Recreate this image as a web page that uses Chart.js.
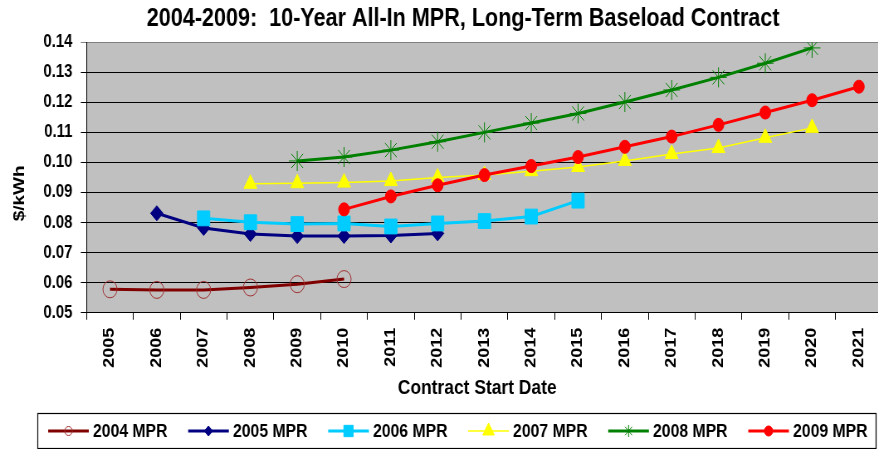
<!DOCTYPE html>
<html>
<head>
<meta charset="utf-8">
<script src="https://cdn.jsdelivr.net/npm/chart.js@4.4.0/dist/chart.umd.min.js"></script>
<style>
  html, body { margin: 0; padding: 0; background: #fff; overflow: hidden; }
  /* the original picture is squeezed sideways, so the whole chart is drawn wide and squeezed the same way */
  #wrap { position: relative; width: 1116px; height: 449px; transform: scaleX(0.83); transform-origin: 0 0; }
</style>
</head>
<body>
<div id="wrap"><canvas id="myChart"></canvas></div>
<script>
// contract start years (x categories)
const years = ['2005','2006','2007','2008','2009','2010','2011','2012','2013','2014','2015','2016','2017','2018','2019','2020','2021'];

// $/kWh, null where a series has no point
const mpr2004 = [0.0578, 0.0576, 0.0576, 0.0584, 0.0595, 0.0612, null, null, null, null, null, null, null, null, null, null, null];
const mpr2005 = [null, 0.0831, 0.0782, 0.0762, 0.0755, 0.0755, 0.0757, 0.0764, null, null, null, null, null, null, null, null, null];
const mpr2006 = [null, null, 0.0814, 0.0801, 0.0795, 0.0797, 0.0787, 0.0797, 0.0805, 0.0820, 0.0873, null, null, null, null, null, null];
const mpr2007 = [null, null, null, 0.0929, 0.0931, 0.0933, 0.0938, 0.0950, 0.0958, 0.0971, 0.0985, 0.1005, 0.1028, 0.1048, 0.1082, 0.1115, null];
const mpr2008 = [null, null, null, null, 0.1005, 0.1018, 0.1041, 0.1069, 0.1100, 0.1131, 0.1163, 0.1201, 0.1241, 0.1283, 0.1330, 0.1381, null];
const mpr2009 = [null, null, null, null, null, 0.0844, 0.0887, 0.0924, 0.0958, 0.0988, 0.1018, 0.1052, 0.1086, 0.1125, 0.1166, 0.1207, 0.1252];

const seriesNames = ['2004 MPR', '2005 MPR', '2006 MPR', '2007 MPR', '2008 MPR', '2009 MPR'];
const seriesData = [mpr2004, mpr2005, mpr2006, mpr2007, mpr2008, mpr2009];

const yMin = 0.05;
const yMax = 0.14;
const yStep = 0.01;

const fontFamily = "'Liberation Sans', Arial, sans-serif";

// look of each series (line + marker), same order as seriesNames
const styles = [
    {line: '#800000', width: 3, point: 'circle', r: 8.5, fill: 'rgba(0,0,0,0)', edge: '#a03030', pw: 1, lr: 4.5},
    {line: '#000080', width: 3, point: 'rectRot', r: 7.5, fill: '#000080', edge: '#000080', pw: 1, lr: 5},
    {line: '#00ccff', width: 3, point: 'rect', r: 10.5, fill: '#00ccff', edge: '#00ccff', pw: 1, lr: 8},
    {line: '#ffff00', width: 1.5, point: 'triangle', r: 9, fill: '#ffff00', edge: '#ffff00', pw: 1, lr: 8},
    {line: '#008000', width: 3, point: 'star', r: 10, fill: '#008000', edge: '#008000', pw: 1, lr: 6},
    {line: '#ff0000', width: 3, point: 'circle', r: 6.5, fill: '#ff0000', edge: '#ff0000', pw: 1, lr: 5}
];

function buildDatasets(){
    return seriesData.map((values, i) => {
        const s = styles[i];
        return {
            label: seriesNames[i],
            data: values,
            borderColor: s.line,
            borderWidth: s.width,
            backgroundColor: s.fill,
            pointStyle: s.point,
            pointRadius: s.r,
            pointBackgroundColor: s.fill,
            pointBorderColor: s.edge,
            pointBorderWidth: s.pw,
            tension: 0,
            fill: false,
            order: seriesData.length - i   // later series on top, like the original
        };
    });
}

// white page + grey plot area
const plotBackground = {
    id: 'plotBackground',
    beforeDraw(chart){
        const ctx = chart.ctx;
        const a = chart.chartArea;
        ctx.save();
        ctx.fillStyle = '#ffffff';
        ctx.fillRect(0, 0, chart.width, chart.height);
        ctx.fillStyle = '#c0c0c0';
        ctx.fillRect(a.left, a.top, a.right - a.left, a.bottom - a.top);
        ctx.restore();
    }
};

// boxed legend with line + marker samples
const boxLegend = {
    id: 'boxLegend',
    afterDraw(chart){
        const ctx = chart.ctx;
        const boxLeft = 45, boxTop = 413, boxW = 1010, boxH = 35;
        const pitch = 168.7, lineLen = 49;
        ctx.save();
        ctx.strokeStyle = '#000000';
        ctx.lineWidth = 1.2;
        ctx.strokeRect(boxLeft + 0.5, boxTop + 0.5, boxW, boxH);
        const cy = boxTop + boxH / 2 + 0.5;
        seriesNames.forEach((name, i) => {
            const s = styles[i];
            const x0 = boxLeft + 13 + i * pitch;
            ctx.strokeStyle = s.line;
            ctx.lineWidth = s.width;
            ctx.beginPath();
            ctx.moveTo(x0, cy);
            ctx.lineTo(x0 + lineLen, cy);
            ctx.stroke();
            ctx.fillStyle = s.fill;
            ctx.strokeStyle = s.edge;
            ctx.lineWidth = 1;
            Chart.helpers.drawPoint(ctx, {pointStyle: s.point, radius: s.lr, rotation: 0, borderWidth: 1}, x0 + lineLen / 2, cy);
            ctx.fillStyle = '#000000';
            ctx.font = 'bold 19px ' + fontFamily;
            ctx.textBaseline = 'middle';
            ctx.textAlign = 'left';
            ctx.fillText(name, x0 + lineLen + 5, cy + 1);
        });
        ctx.restore();
    }
};

function initChart(target){
    const config = {
        type: 'line',
        data: {labels: years, datasets: buildDatasets()},
        options: {
            responsive: true,
            maintainAspectRatio: false,
            animation: false,
            devicePixelRatio: 1,
            layout: {padding: {left: 0, right: 0, top: 0, bottom: 48}},
            plugins: {
                legend: {display: false},
                tooltip: {enabled: false},
                title: {
                    display: true,
                    text: '2004-2009:  10-Year All-In MPR, Long-Term Baseload Contract',
                    color: '#000000',
                    font: {family: fontFamily, size: 26, weight: 'bold'},
                    padding: {top: 3, bottom: 8}
                }
            },
            scales: {
                x: {
                    type: 'category',
                    offset: true,
                    grid: {offset: true, drawOnChartArea: false, drawTicks: true, tickLength: 7, color: '#000000'},
                    border: {display: true, color: '#000000', width: 1},
                    ticks: {
                        color: '#000000',
                        minRotation: 90,
                        maxRotation: 90,
                        autoSkip: false,
                        padding: 8,
                        font: {family: fontFamily, size: 18, weight: 'bold'}
                    },
                    title: {
                        display: true,
                        text: 'Contract Start Date   ',
                        color: '#000000',
                        font: {family: fontFamily, size: 21, weight: 'bold'},
                        padding: {top: 0, bottom: 0}
                    }
                },
                y: {
                    min: yMin,
                    max: yMax,
                    grid: {
                        color: (c) => (c.tick && Math.abs(c.tick.value - yMax) < 1e-6) ? '#808080' : '#000000',
                        lineWidth: 1,
                        drawTicks: true,
                        tickLength: 7
                    },
                    border: {display: true, color: '#000000', width: 1},
                    ticks: {
                        stepSize: yStep,
                        color: '#000000',
                        padding: 10,
                        font: {family: fontFamily, size: 18, weight: 'bold'},
                        callback: (v) => Number(v).toFixed(2)
                    },
                    title: {
                        display: true,
                        text: '$/kWh      ',
                        color: '#000000',
                        font: {family: fontFamily, size: 19, weight: 'bold'},
                        padding: {top: 12, bottom: 7.5}
                    }
                },
                // empty strip on the right: the plot runs past the picture edge in the original
                yRightSpace: {
                    type: 'linear',
                    position: 'right',
                    grid: {display: false},
                    border: {display: false},
                    ticks: {display: false},
                    afterFit: (scale) => { scale.width = 53; }
                }
            }
        },
        plugins: [plotBackground, boxLegend]
    };
    return new Chart(target, config);
}

document.addEventListener('DOMContentLoaded', () => {
    const chartTarget = document.querySelector('#myChart');
    const myChart = initChart(chartTarget);
    console.log(myChart.chartArea);
});
</script>
</body>
</html>
